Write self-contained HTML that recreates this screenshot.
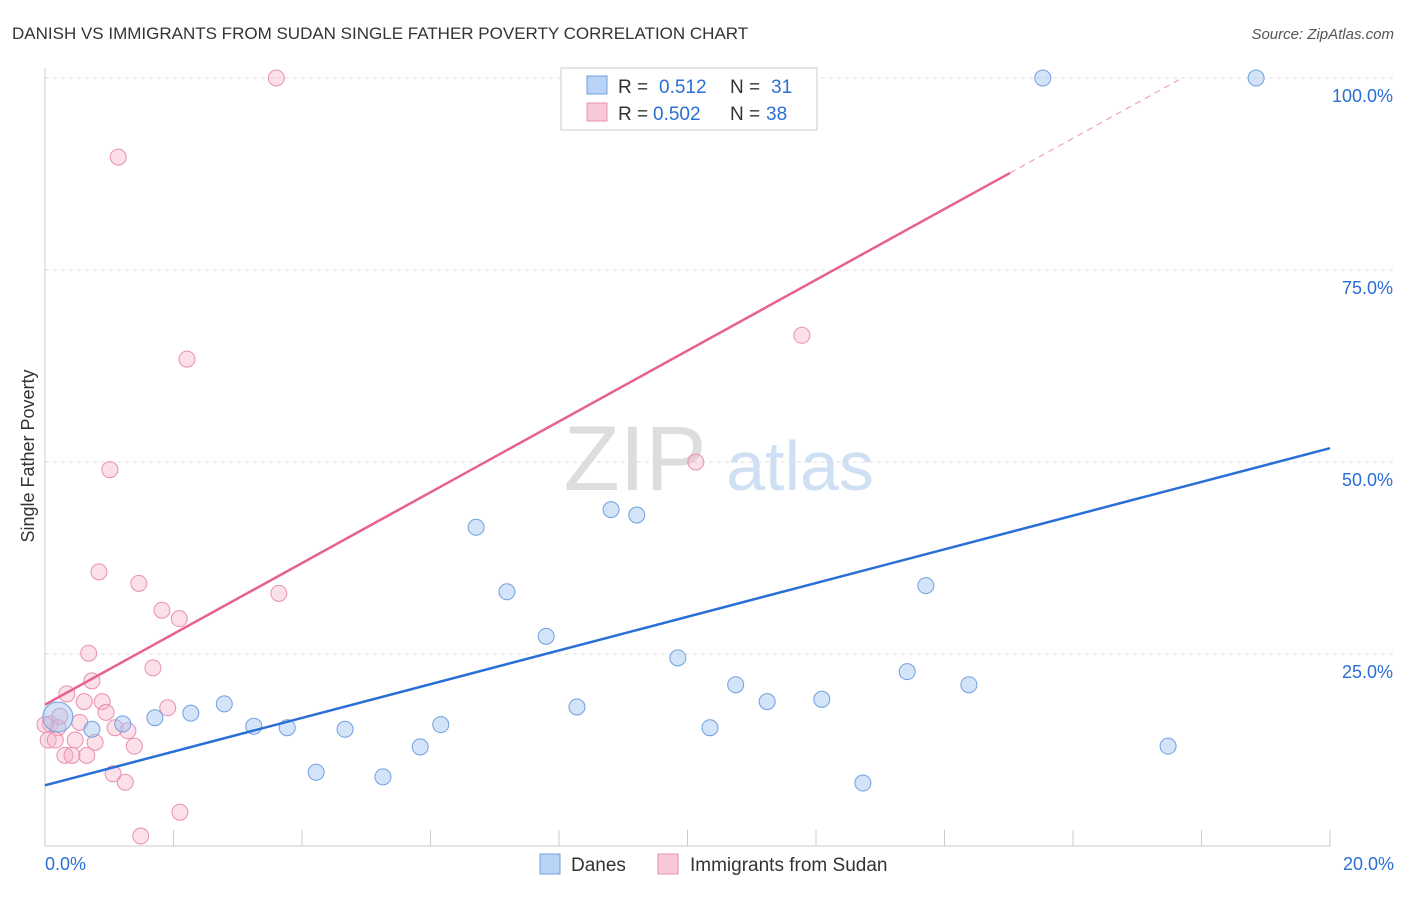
<!DOCTYPE html>
<html><head><meta charset="utf-8"><style>
body{margin:0;background:#fff;font-family:"Liberation Sans",sans-serif;}
svg text{font-family:"Liberation Sans",sans-serif;}
</style></head><body>
<svg id="chart" width="1406" height="892">
<text x="12" y="39" font-size="17" fill="#333">DANISH VS IMMIGRANTS FROM SUDAN SINGLE FATHER POVERTY CORRELATION CHART</text>
<text x="1394" y="39" font-size="15" fill="#555" font-style="italic" text-anchor="end">Source: ZipAtlas.com</text>
<text x="34" y="456" font-size="18" fill="#333" text-anchor="middle" transform="rotate(-90 34 456)">Single Father Poverty</text>
<g><text x="635" y="490" font-size="92" fill="#ddd" font-family="Liberation Serif" text-anchor="middle">ZIP</text><text x="800" y="490" font-size="70" fill="#cfe0f5" text-anchor="middle">atlas</text></g>
<g id="grid"></g><g id="marks"></g>
<g>
<rect x="561" y="68" width="256" height="62" fill="#fff" stroke="#ccc"/>
<rect x="587" y="76" width="20" height="18" fill="#b8d3f5" stroke="#6fa0e0"/>
<text x="618" y="93" font-size="19" fill="#333">R =</text><text x="659" y="93" font-size="19" fill="#2a6fd6">0.512</text>
<text x="730" y="93" font-size="19" fill="#333">N =</text><text x="771" y="93" font-size="19" fill="#2a6fd6">31</text>
<rect x="587" y="103" width="20" height="18" fill="#f8c8d8" stroke="#e890b0"/>
<text x="618" y="120" font-size="19" fill="#333">R =</text><text x="653" y="120" font-size="19" fill="#2a6fd6">0.502</text>
<text x="730" y="120" font-size="19" fill="#333">N =</text><text x="766" y="120" font-size="19" fill="#2a6fd6">38</text>
</g>
<g>
<rect x="540" y="854" width="20" height="20" fill="#b8d3f5" stroke="#6fa0e0"/><text x="571" y="871" font-size="19" fill="#333">Danes</text>
<rect x="658" y="854" width="20" height="20" fill="#f8c8d8" stroke="#e890b0"/><text x="690" y="871" font-size="19" fill="#333">Immigrants from Sudan</text>
</g>
</svg>
<script>
const yTicks=[25,50,75,100];
const yTickLabels=["25.0%","50.0%","75.0%","100.0%"];
const xTicks=[0,2,4,6,8,10,12,14,16,18,20];
const xEndLabels=["0.0%","20.0%"];
const danesX=[0.20,0.73,1.21,1.71,2.27,2.79,3.25,3.77,4.22,4.67,5.26,5.84,6.16,6.71,7.19,7.80,8.28,8.81,9.21,9.85,10.35,10.75,11.24,12.09,12.73,13.42,13.71,14.38,15.53,17.48,18.85];
const danesY=[16.8,15.2,15.9,16.7,17.3,18.5,15.6,15.4,9.6,15.2,9.0,12.9,15.8,41.5,33.1,27.3,18.1,43.8,43.1,24.5,15.4,21.0,18.8,19.1,8.2,22.7,33.9,21.0,100,13.0,100];
const sudanX=[3.60,1.14,2.21,1.01,0.84,1.46,1.82,2.09,3.64,1.68,0.68,0.73,0.34,0.61,0.89,0.95,1.91,0.08,0.20,0.54,1.09,1.29,0.05,0.16,0.47,0.78,1.39,0.31,0.42,0.65,1.06,1.25,2.10,1.49,10.13,11.78,0,0.23];
const sudanY=[100,89.7,63.4,49.0,35.7,34.2,30.7,29.6,32.9,23.2,25.1,21.5,19.8,18.8,18.8,17.4,18.0,15.9,15.4,16.1,15.4,15.0,13.8,13.8,13.8,13.5,13.0,11.8,11.8,11.8,9.4,8.3,4.4,1.3,50.0,66.5,15.8,16.9];
const danesTrend=[7.9,51.8];
const sudanTrend=[18.4,4.61];
const NS="http://www.w3.org/2000/svg";
const X=v=>45+v/20*1285, Y=v=>846-v/100*768;
function mk(p,t,a){const e=document.createElementNS(NS,t);for(const k in a)e.setAttribute(k,a[k]);p.appendChild(e);return e;}
const g=document.getElementById('grid'),m=document.getElementById('marks');
yTicks.forEach((t,i)=>{
 const l=mk(g,'line',{x1:45,x2:1394,y1:Y(t),y2:Y(t),stroke:'#ddd','stroke-dasharray':'4,4'});
 
 
 const tx=mk(g,'text',{x:1393,y:Y(t)+24,'font-size':18,fill:'#2a6fd6','text-anchor':'end'});tx.textContent=yTickLabels[i];
 
 
});
mk(g,'line',{x1:45,x2:45,y1:68,y2:846,stroke:'#ccc'});
mk(g,'line',{x1:45,x2:1330,y1:846,y2:846,stroke:'#ccc'});
xTicks.forEach(t=>{const l=mk(g,'line',{x1:X(t),x2:X(t),y1:830,y2:846,stroke:'#ccc'});
 
 });
const a=mk(g,'text',{x:45,y:870,'font-size':18,fill:'#2a6fd6'});a.textContent=xEndLabels[0];


const b=mk(g,'text',{x:1394,y:870,'font-size':18,fill:'#2a6fd6','text-anchor':'end'});b.textContent=xEndLabels[1];


sudanX.forEach((x,i)=>{const c=mk(m,'circle',{cx:X(x),cy:Y(sudanY[i]),r:8,fill:'rgba(246,178,200,0.4)',stroke:'#e890b0','stroke-width':1});
 
 });
danesX.forEach((x,i)=>{const c=mk(m,'circle',{cx:X(x),cy:Y(danesY[i]),r:i===0?15:8,fill:'rgba(160,196,240,0.45)',stroke:'#6fa0e0','stroke-width':1});
 
 });
const bl=mk(m,'line',{x1:X(0),y1:Y(danesTrend[0]),x2:X(20),y2:Y(danesTrend[1]),stroke:'#2a6fd6','stroke-width':2.5});


const xs=15.02, xe=(100-sudanTrend[0])/sudanTrend[1];
const pl=mk(m,'line',{x1:X(0),y1:Y(sudanTrend[0]),x2:X(xs),y2:Y(sudanTrend[0]+sudanTrend[1]*xs),stroke:'#e8608e','stroke-width':2.5});


const pd=mk(m,'line',{x1:X(xs),y1:Y(sudanTrend[0]+sudanTrend[1]*xs),x2:X(xe),y2:Y(100),stroke:'#f0a0bc','stroke-width':1.2,'stroke-dasharray':'6,5'});


</script>
</body></html>
